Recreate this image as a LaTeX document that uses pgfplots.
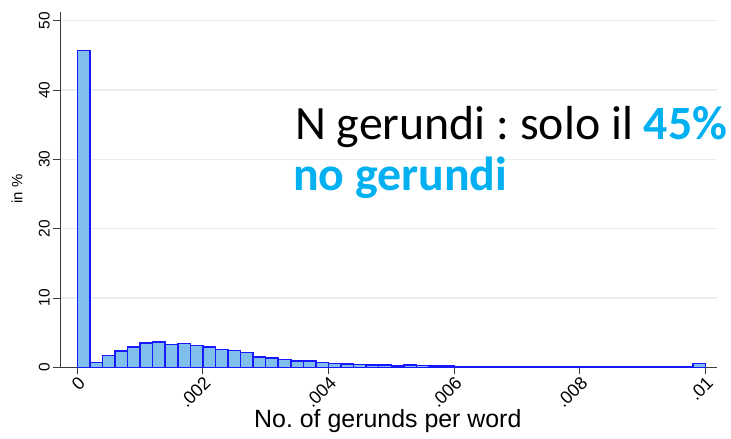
\documentclass[border=0pt]{standalone}
\usepackage{pgfplots}
\pgfplotsset{compat=1.18}
\usepackage{fontspec}
\setmainfont{Liberation Sans}
\newfontfamily\calibri{Carlito}
\frenchspacing
\definecolor{barfill}{RGB}{128,190,235}
\definecolor{baredge}{RGB}{25,25,255}
\definecolor{gridc}{RGB}{230,238,238}
\definecolor{cyanc}{RGB}{0,176,240}
\definecolor{axc}{RGB}{60,60,60}
\begin{document}
\begin{tikzpicture}
\path[use as bounding box] (-60bp,-71.7bp) rectangle (671bp,367.3bp);
\begin{axis}[
  scale only axis, width=657bp, height=355.6bp,
  xmin=-0.000275, xmax=0.010186, ymin=0, ymax=51.3,
  axis lines*=left,
  axis line style={axc, line width=0.9bp},
  clip=false,
  scaled x ticks=false,
  xtick={0,0.002,0.004,0.006,0.008,0.01},
  xticklabels={{0},{.002},{.004},{.006},{.008},{.01}},
  ytick={0,10,20,30,40,50},
  yticklabels={0,10,20,30,40,50},
  tick align=outside,
  major tick length=7bp,
  tick style={axc, line width=0.9bp},
  ymajorgrids,
  grid style={gridc, line width=1.2bp},
  x tick label style={font=\fontsize{18}{21}\selectfont, rotate=45, anchor=north east, inner sep=0.5bp},
  y tick label style={font=\fontsize{15.5}{18}\selectfont, rotate=90, anchor=south, inner sep=3bp},
  xlabel={No. of gerunds per word},
  ylabel={in \%},
  xlabel style={font=\fontsize{25}{30}\selectfont, at={(axis description cs:0.499,-0.151)}, anchor=center},
  ylabel style={font=\fontsize{15}{18}\selectfont, at={(axis description cs:-0.0654,0.501)}, anchor=center, rotate=0},
]
\addplot[ybar interval, fill=barfill, draw=baredge, line width=1.5bp] coordinates {
(0.0000,45.7) (0.0002,0.7) (0.0004,1.7) (0.0006,2.35) (0.0008,2.95)
(0.0010,3.5) (0.0012,3.65) (0.0014,3.3) (0.0016,3.4) (0.0018,3.15)
(0.0020,2.9) (0.0022,2.6) (0.0024,2.4) (0.0026,2.1) (0.0028,1.5)
(0.0030,1.35) (0.0032,1.15) (0.0034,0.9) (0.0036,0.88) (0.0038,0.72)
(0.0040,0.58) (0.0042,0.45) (0.0044,0.38) (0.0046,0.32) (0.0048,0.3)
(0.0050,0.22) (0.0052,0.3) (0.0054,0.28) (0.0056,0.2) (0.0058,0.18)
(0.0060,0.1) (0.0062,0.15) (0.0064,0.15) (0.0066,0.06) (0.0068,0.05)
(0.0070,0.05) (0.0072,0.05) (0.0074,0.04) (0.0076,0.04) (0.0078,0.04)
(0.0080,0.05) (0.0082,0.07) (0.0084,0.05) (0.0086,0.04) (0.0088,0.04)
(0.0090,0.04) (0.0092,0.04) (0.0094,0.04) (0.0096,0.06) (0.0098,0.55)
(0.0100,0)
};
\node[anchor=base west, inner sep=0pt, font=\calibri\fontsize{48}{58}\selectfont] at (rel axis cs:0.3577,0.6392) {N gerundi : solo il \textbf{\color{cyanc}45\%}};
\node[anchor=base west, inner sep=0pt, font=\calibri\fontsize{48}{58}\selectfont\bfseries, text=cyanc] at (rel axis cs:0.3546,0.4958) {no gerundi};
\end{axis}
\end{tikzpicture}
\end{document}
